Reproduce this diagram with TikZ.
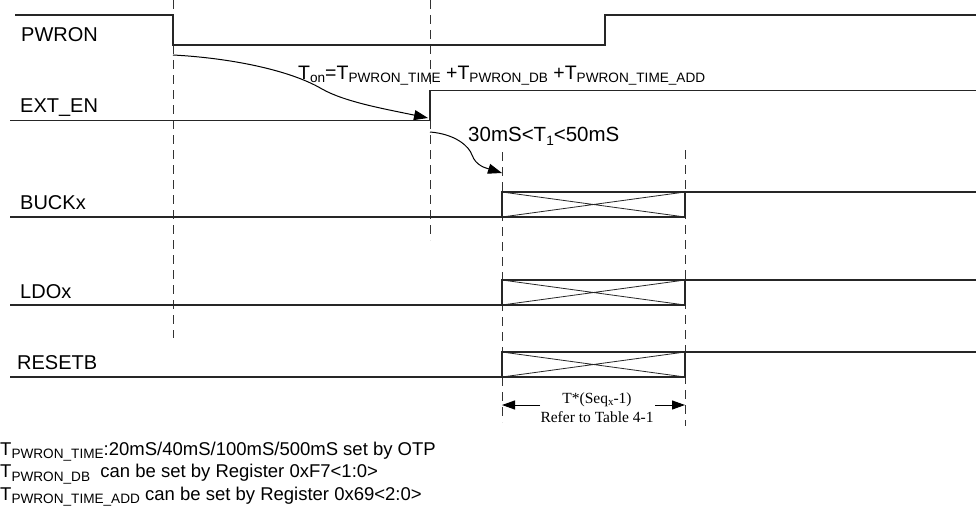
\documentclass[tikz,border=0pt]{standalone}
\usepackage{fontspec}
\setmainfont{Liberation Sans}
\newfontfamily\tnr{Liberation Serif}
\usetikzlibrary{arrows.meta}
\newcommand{\lsub}[1]{\raisebox{-0.2em}{\fontsize{13.6}{14}\selectfont #1}}
\newcommand{\ssub}[1]{\raisebox{-0.15em}{\fontsize{11}{12}\selectfont #1}}
\begin{document}
\begin{tikzpicture}[x=1pt,y=-1pt,
  sig/.style={line width=1.1pt, draw=black!85},
  xline/.style={line width=0.8pt, draw=black!85},
  guide/.style={line width=1pt, draw=black!80, dash pattern=on 9pt off 6pt},
  lbl/.style={anchor=base west, inner sep=0pt, font=\fontsize{20}{22}\selectfont},
  tlbl/.style={anchor=base west, inner sep=0pt, font=\fontsize{19.5}{22}\selectfont},
  note/.style={anchor=base west, inner sep=0pt, font=\fontsize{18.5}{22}\selectfont},
  dimtxt/.style={anchor=base, inner sep=0pt, font=\tnr\fontsize{15.5}{17}\selectfont},
  curvearr/.style={line width=1pt, draw=black, -{Triangle[length=14pt,width=10pt]}},
  dimarr/.style={line width=1pt, draw=black, -{Triangle[length=13pt,width=9pt]}}
]
\useasboundingbox (0,0) rectangle (976,511);

% guides
\draw[guide] (173,0) -- (173,338);
\draw[guide] (430,0) -- (430,240);
\draw[guide] (502,152) -- (502,422);
\draw[guide] (685,150) -- (685,426);

% labels
\node[lbl] (lpwron) at (21,41.7) {PWRON};
\node[lbl] (lexten) at (20,112) {EXT\_EN};
\node[lbl] (lbuck) at (20,209) {BUCKx};
\node[lbl] (lldo) at (20,298) {LDOx};
\node[lbl] (lrst) at (17,369) {RESETB};

% PWRON
\draw[sig] (15,15) -- (173,15) -- (173,45) -- (605,45) -- (605,15) -- (976,15);
% EXT_EN
\draw[sig] (10,120.7) -- (430,120.7) -- (430,90.7) -- (976,90.7);
% BUCKx
\draw[sig] (10,217) -- (502,217);
\draw[sig] (502,192) rectangle (685,217);
\draw[xline] (502,192) -- (685,217) (502,217) -- (685,192);
\draw[sig] (685,192) -- (976,192);
% LDOx
\draw[sig] (10,305) -- (502,305);
\draw[sig] (502,280) rectangle (685,305);
\draw[xline] (502,280) -- (685,305) (502,305) -- (685,280);
\draw[sig] (685,280) -- (976,280);
% RESETB
\draw[sig] (10,377) -- (502,377);
\draw[sig] (502,352) rectangle (685,377);
\draw[xline] (502,352) -- (685,377) (502,377) -- (685,352);
\draw[sig] (685,352) -- (976,352);

% T_on curve
\coordinate (c1s) at (173,55);
\coordinate (c1e) at (428,118);
\draw[curvearr] (c1s) .. controls (230,58) and (290,70) .. (322,89) .. controls (345,102) and (385,109) .. (c1e);
\node[tlbl] (ton) at (298,79) {T\lsub{on}=T\lsub{PWRON\_TIME} +T\lsub{PWRON\_DB} +T\lsub{PWRON\_TIME\_ADD}};

% T1 curve
\coordinate (c2s) at (430,132);
\coordinate (c2e) at (502,173);
\draw[curvearr] (c2s) .. controls (455,134) and (469,146) .. (472,155) .. controls (476,166) and (486,168) .. (c2e);
\node[lbl, font=\fontsize{20.5}{22}\selectfont] (t1) at (468,141.7) {30mS<T\lsub{1}<50mS};

% dimension
\coordinate (dl) at (502,405);
\coordinate (dr) at (685,405);
\coordinate (dla) at (540,405);
\coordinate (dra) at (655,405);
\draw[dimarr] (dla) -- (dl);
\draw[dimarr] (dra) -- (dr);
\node[dimtxt] (seq) at (597,403.5) {T*(Seq\ssub{x}-1)};
\node[dimtxt] (ref) at (597,422) {Refer to Table 4-1};

% notes
\node[note] (n1) at (0,455) {T\lsub{PWRON\_TIME}:20mS/40mS/100mS/500mS set by OTP};
\node[note] (n2) at (0,477.3) {T\lsub{PWRON\_DB}\ \ can be set by Register 0xF7<1:0>};
\node[note] (n3) at (0,500) {T\lsub{PWRON\_TIME\_ADD} can be set by Register 0x69<2:0>};
\end{tikzpicture}
\end{document}
